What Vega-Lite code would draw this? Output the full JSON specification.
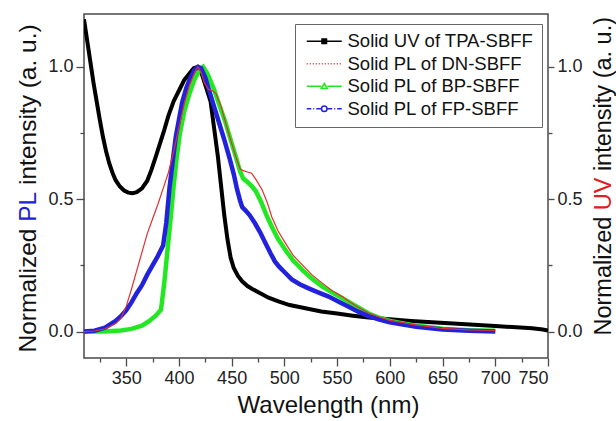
{
  "$schema": "https://vega.github.io/schema/vega-lite/v6.json",
  "width": 464,
  "height": 344,
  "autosize": "none",
  "padding": {"left": 84, "top": 14, "right": 68, "bottom": 63},
  "background": "white",
  "config": {
    "font": "Liberation Sans",
    "view": {"stroke": "#4a4a4a", "strokeWidth": 1.5},
    "axis": {
      "domain": false,
      "grid": false,
      "labelFont": "Liberation Sans",
      "labelFontSize": 18,
      "labelColor": "#222",
      "titleFont": "Liberation Sans",
      "titleFontSize": 24,
      "titleFontWeight": "normal",
      "titleColor": "#111",
      "tickColor": "#4a4a4a",
      "tickWidth": 1.3,
      "labelPadding": 3
    },
    "legend": {
      "labelFont": "Liberation Sans",
      "labelFontSize": 18.5,
      "labelColor": "#111",
      "labelLimit": 300
    }
  },
  "datasets": {
    "uv": [
      {"x":310,"y":1.18},{"x":313,"y":1.1},{"x":316,"y":1.02},{"x":319,"y":0.94},{"x":322,"y":0.87},{"x":325,"y":0.8},{"x":328,"y":0.735},{"x":331,"y":0.68},{"x":334,"y":0.635},{"x":337,"y":0.6},{"x":340,"y":0.572},{"x":344,"y":0.548},{"x":348,"y":0.533},{"x":352,"y":0.525},{"x":356,"y":0.523},{"x":360,"y":0.527},{"x":365,"y":0.541},{"x":370,"y":0.57},{"x":374,"y":0.612},{"x":378,"y":0.66},{"x":382,"y":0.71},{"x":386,"y":0.76},{"x":390,"y":0.815},{"x":395,"y":0.87},{"x":400,"y":0.91},{"x":405,"y":0.95},{"x":410,"y":0.975},{"x":414,"y":0.995},{"x":418,"y":1.0},{"x":422,"y":0.97},{"x":426,"y":0.92},{"x":430,"y":0.87},{"x":434,"y":0.75},{"x":437,"y":0.66},{"x":440,"y":0.55},{"x":443,"y":0.44},{"x":446,"y":0.35},{"x":449,"y":0.28},{"x":452,"y":0.24},{"x":456,"y":0.21},{"x":460,"y":0.19},{"x":465,"y":0.172},{"x":470,"y":0.16},{"x":478,"y":0.143},{"x":485,"y":0.128},{"x":495,"y":0.113},{"x":505,"y":0.1},{"x":520,"y":0.088},{"x":535,"y":0.076},{"x":550,"y":0.068},{"x":565,"y":0.06},{"x":580,"y":0.053},{"x":600,"y":0.046},{"x":620,"y":0.04},{"x":640,"y":0.035},{"x":660,"y":0.03},{"x":680,"y":0.026},{"x":700,"y":0.021},{"x":720,"y":0.016},{"x":735,"y":0.012},{"x":745,"y":0.008},{"x":750,"y":0.004}
    ],
    "dn": [
      {"x":310,"y":0.0},{"x":320,"y":0.002},{"x":330,"y":0.01},{"x":340,"y":0.03},{"x":345,"y":0.05},{"x":350,"y":0.095},{"x":355,"y":0.16},{"x":360,"y":0.23},{"x":365,"y":0.3},{"x":370,"y":0.37},{"x":375,"y":0.425},{"x":380,"y":0.48},{"x":385,"y":0.54},{"x":390,"y":0.6},{"x":395,"y":0.68},{"x":400,"y":0.77},{"x":405,"y":0.86},{"x":410,"y":0.93},{"x":415,"y":0.98},{"x":418,"y":1.0},{"x":421,"y":0.98},{"x":424,"y":0.94},{"x":428,"y":0.915},{"x":432,"y":0.91},{"x":435,"y":0.9},{"x":440,"y":0.85},{"x":444,"y":0.792},{"x":449,"y":0.725},{"x":454,"y":0.66},{"x":458,"y":0.615},{"x":461,"y":0.608},{"x":465,"y":0.603},{"x":469,"y":0.598},{"x":473,"y":0.575},{"x":479,"y":0.535},{"x":484,"y":0.485},{"x":488,"y":0.434},{"x":494,"y":0.38},{"x":501,"y":0.334},{"x":508,"y":0.29},{"x":517,"y":0.252},{"x":526,"y":0.215},{"x":536,"y":0.183},{"x":545,"y":0.155},{"x":555,"y":0.132},{"x":562,"y":0.112},{"x":569,"y":0.094},{"x":580,"y":0.07},{"x":590,"y":0.055},{"x":600,"y":0.042},{"x":625,"y":0.024},{"x":650,"y":0.012},{"x":675,"y":0.006},{"x":700,"y":0.004}
    ],
    "bp": [
      {"x":310,"y":0.0},{"x":330,"y":0.0},{"x":345,"y":0.004},{"x":355,"y":0.01},{"x":365,"y":0.022},{"x":372,"y":0.04},{"x":378,"y":0.06},{"x":383,"y":0.082},{"x":386,"y":0.18},{"x":389,"y":0.3},{"x":392,"y":0.42},{"x":395,"y":0.55},{"x":398,"y":0.66},{"x":401,"y":0.75},{"x":405,"y":0.83},{"x":410,"y":0.9},{"x":415,"y":0.955},{"x":420,"y":0.99},{"x":423,"y":1.0},{"x":427,"y":0.975},{"x":433,"y":0.918},{"x":438,"y":0.86},{"x":444,"y":0.792},{"x":449,"y":0.725},{"x":454,"y":0.66},{"x":458,"y":0.605},{"x":461,"y":0.578},{"x":465,"y":0.565},{"x":469,"y":0.55},{"x":473,"y":0.53},{"x":478,"y":0.49},{"x":483,"y":0.44},{"x":488,"y":0.397},{"x":494,"y":0.35},{"x":501,"y":0.308},{"x":508,"y":0.27},{"x":517,"y":0.233},{"x":526,"y":0.2},{"x":536,"y":0.17},{"x":545,"y":0.148},{"x":555,"y":0.126},{"x":562,"y":0.11},{"x":569,"y":0.094},{"x":580,"y":0.068},{"x":590,"y":0.052},{"x":600,"y":0.04},{"x":625,"y":0.022},{"x":650,"y":0.011},{"x":675,"y":0.005},{"x":700,"y":0.003}
    ],
    "fp": [
      {"x":310,"y":0.0},{"x":320,"y":0.003},{"x":330,"y":0.015},{"x":340,"y":0.04},{"x":345,"y":0.058},{"x":350,"y":0.08},{"x":355,"y":0.11},{"x":360,"y":0.145},{"x":365,"y":0.175},{"x":370,"y":0.215},{"x":375,"y":0.25},{"x":380,"y":0.285},{"x":385,"y":0.325},{"x":388,"y":0.41},{"x":391,"y":0.54},{"x":394,"y":0.64},{"x":397,"y":0.735},{"x":400,"y":0.8},{"x":403,"y":0.865},{"x":407,"y":0.92},{"x":411,"y":0.96},{"x":415,"y":0.99},{"x":418,"y":1.0},{"x":421,"y":0.995},{"x":425,"y":0.96},{"x":428,"y":0.92},{"x":433,"y":0.855},{"x":438,"y":0.79},{"x":443,"y":0.725},{"x":448,"y":0.655},{"x":452,"y":0.595},{"x":455,"y":0.54},{"x":458,"y":0.495},{"x":460,"y":0.47},{"x":463,"y":0.458},{"x":467,"y":0.44},{"x":472,"y":0.41},{"x":477,"y":0.375},{"x":482,"y":0.335},{"x":487,"y":0.295},{"x":491,"y":0.265},{"x":495,"y":0.245},{"x":500,"y":0.225},{"x":507,"y":0.197},{"x":515,"y":0.178},{"x":523,"y":0.163},{"x":532,"y":0.148},{"x":542,"y":0.132},{"x":552,"y":0.112},{"x":561,"y":0.094},{"x":570,"y":0.075},{"x":580,"y":0.058},{"x":590,"y":0.045},{"x":600,"y":0.035},{"x":625,"y":0.018},{"x":650,"y":0.008},{"x":675,"y":0.003},{"x":700,"y":0.0}
    ]
  },
  "encoding": {
    "x": {
      "field": "x",
      "type": "quantitative",
      "scale": {"domain": [310, 750], "nice": false, "zero": false},
      "axis": {
        "title": "Wavelength (nm)",
        "values": [325,350,375,400,425,450,475,500,525,550,575,600,625,650,675,700,725,750],
        "labelExpr": "datum.value % 50 === 0 ? datum.label : ''",
        "format": "d",
        "tickSize": {"condition": {"test": "datum.value % 50 === 0", "value": 8}, "value": 4},
        "titleX": 244,
        "titlePadding": 6
      }
    }
  },
  "layer": [
    {
      "data": {"name": "uv"},
      "mark": {"type": "line", "strokeWidth": 4, "color": "#000000", "clip": true},
      "encoding": {
        "y": {
          "field": "y", "type": "quantitative",
          "scale": {"domain": [-0.1, 1.2], "nice": false, "zero": false},
          "axis": {
            "orient": "right",
            "title": "Normalized",
            "titleFontSize": 23.5,
            "titleAngle": -90,
            "titleAlign": "left",
            "titleBaseline": "alphabetic",
            "titleX": 62,
            "titleY": 321,
            "values": [0, 0.25, 0.5, 0.75, 1.0],
            "labelExpr": "abs(datum.value*2 - round(datum.value*2)) < 0.001 ? format(datum.value, '.1f') : ''",
            "tickSize": {"condition": {"test": "abs(datum.value*2 - round(datum.value*2)) < 0.001", "value": 6}, "value": 4}
          }
        }
      }
    },
    {
      "data": {"name": "bp"},
      "mark": {"type": "line", "strokeWidth": 4.5, "color": "#22e822"},
      "encoding": {
        "y": {
          "field": "y", "type": "quantitative",
          "scale": {"domain": [-0.1, 1.2], "nice": false, "zero": false},
          "axis": {
            "orient": "left",
            "title": "Normalized",
            "titleFontSize": 24.5,
            "titleAngle": -90,
            "titleAlign": "left",
            "titleBaseline": "alphabetic",
            "titleX": -49,
            "titleY": 338,
            "values": [0, 0.25, 0.5, 0.75, 1.0],
            "labelExpr": "abs(datum.value*2 - round(datum.value*2)) < 0.001 ? format(datum.value, '.1f') : ''",
            "tickSize": {"condition": {"test": "abs(datum.value*2 - round(datum.value*2)) < 0.001", "value": 8}, "value": 4}
          }
        }
      }
    },
    {
      "data": {"name": "fp"},
      "mark": {"type": "line", "strokeWidth": 4.5, "color": "#2222dd"},
      "encoding": {
        "y": {
          "field": "y", "type": "quantitative",
          "scale": {"domain": [-0.1, 1.2], "nice": false, "zero": false},
          "axis": {
            "orient": "left",
            "labels": false,
            "ticks": false,
            "title": "PL",
            "titleColor": "#2020d8",
            "titleFontSize": 24.5,
            "titleAngle": -90,
            "titleAlign": "left",
            "titleBaseline": "alphabetic",
            "titleX": -49,
            "titleY": 207.3
          }
        }
      }
    },
    {
      "data": {"name": "dn"},
      "mark": {"type": "line", "strokeWidth": 1.2, "color": "#e03030"},
      "encoding": {
        "y": {
          "field": "y", "type": "quantitative",
          "scale": {"domain": [-0.1, 1.2], "nice": false, "zero": false},
          "axis": {
            "orient": "left",
            "labels": false,
            "ticks": false,
            "title": "intensity (a. u.)",
            "titleFontSize": 24.5,
            "titleAngle": -90,
            "titleAlign": "left",
            "titleBaseline": "alphabetic",
            "titleX": -49,
            "titleY": 170.5
          }
        }
      }
    },
    {
      "data": {"name": "uv"},
      "mark": {"type": "point", "size": 0, "filled": false, "opacity": 1, "strokeWidth": 1.3},
      "encoding": {
        "y": {
          "field": "y", "type": "quantitative",
          "scale": {"domain": [-0.1, 1.2], "nice": false, "zero": false},
          "axis": {
            "orient": "right",
            "labels": false,
            "ticks": false,
            "title": "UV",
            "titleColor": "#e02020",
            "titleFontSize": 23.5,
            "titleAngle": -90,
            "titleAlign": "left",
            "titleBaseline": "alphabetic",
            "titleX": 62,
            "titleY": 195.7
          }
        },
        "color": {
          "datum": "Solid UV of TPA-SBFF",
          "type": "nominal",
          "scale": {
            "domain": ["Solid UV of TPA-SBFF", "Solid PL of DN-SBFF", "Solid PL of BP-SBFF", "Solid PL of FP-SBFF"],
            "range": ["#000000", "#e03030", "#22e822", "#2222dd"]
          },
          "legend": {
            "title": null,
            "orient": "none",
            "legendX": 211,
            "legendY": 10,
            "symbolSize": 100,
            "symbolOffset": 12,
            "labelOffset": 14,
            "padding": 8,
            "rowPadding": 3.5,
            "strokeColor": "#666",
            "fillColor": "white"
          }
        },
        "shape": {
          "datum": "Solid UV of TPA-SBFF",
          "type": "nominal",
          "scale": {
            "domain": ["Solid UV of TPA-SBFF", "Solid PL of DN-SBFF", "Solid PL of BP-SBFF", "Solid PL of FP-SBFF"],
            "range": [
              "M-3.5,0H3.5M-0.45,-0.45H0.45V0.45H-0.45ZM-0.45,-0.2H0.45M-0.45,0.2H0.45",
              "M-3.5,0H-3.3M-2.9,0H-2.7M-2.3,0H-2.1M-1.7,0H-1.5M-1.1,0H-0.9M-0.5,0H-0.3M0.1,0H0.3M0.7,0H0.9M1.3,0H1.5M1.9,0H2.1M2.5,0H2.7M3.1,0H3.3",
              "M-3.5,0H-0.6M0.6,0H3.5M0,-0.55L0.6,0.45H-0.6Z",
              "M-3.5,0H-2.6M-2.2,0H-2.0M-1.6,0H-0.6M0.6,0H1.6M2.0,0H2.2M2.6,0H3.5M0.55,0A0.55,0.55 0 1,1 -0.55,0A0.55,0.55 0 1,1 0.55,0"
            ]
          },
          "legend": {
            "title": null,
            "orient": "none",
            "legendX": 211,
            "legendY": 10
          }
        }
      }
    },
    {
      "data": {"name": "uv"},
      "mark": {"type": "point", "size": 0, "opacity": 0},
      "encoding": {
        "y": {
          "field": "y", "type": "quantitative",
          "scale": {"domain": [-0.1, 1.2], "nice": false, "zero": false},
          "axis": {
            "orient": "right",
            "labels": false,
            "ticks": false,
            "title": "intensity (a. u.)",
            "titleFontSize": 23.5,
            "titleAngle": -90,
            "titleAlign": "left",
            "titleBaseline": "alphabetic",
            "titleX": 62,
            "titleY": 156.6
          }
        }
      }
    }
  ],
  "resolve": {"scale": {"y": "independent"}}
}
